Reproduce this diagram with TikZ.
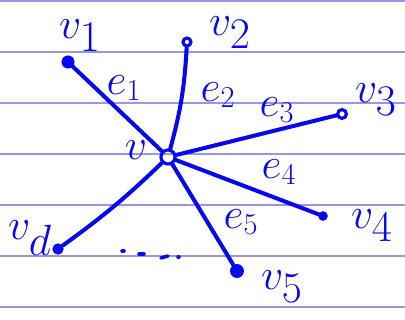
\documentclass[tikz,border=0pt]{standalone}
\definecolor{ink}{RGB}{8,8,238}
\definecolor{ruleline}{RGB}{150,150,240}
\begin{document}
\begin{tikzpicture}[x=0.02cm,y=-0.02cm,
  edge/.style={ink,line width=2.3pt,line cap=round},
  fdot/.style={circle,fill=ink,draw=ink,inner sep=0pt,minimum size=#1},
  odot/.style={circle,draw=ink,line width=1.8pt,inner sep=0pt,minimum size=#1},
  vlab/.style={text=ink,inner sep=0pt,font=\fontsize{36}{40}\selectfont},
  elab/.style={text=ink,inner sep=0pt,font=\fontsize{24}{28}\selectfont},
  ruling/.style={ruleline,line width=1pt}]
\useasboundingbox (0,0) rectangle (405,320);
\fill[white] (0,0) rectangle (405,320);
\foreach \y in {1,52,103,154,205,256,307}
  \draw[ruling] (0,\y) -- (405,\y);
% vertices
\node[odot=8pt] (v) at (168,157) {};
\node[fdot=7pt] (v1) at (68,62) {};
\node[odot=4.5pt] (v2) at (187,42) {};
\node[odot=5pt] (v3) at (342,114) {};
\node[fdot=5pt] (v4) at (323,216) {};
\node[fdot=7.5pt] (v5) at (237,271) {};
\node[fdot=6pt] (vd) at (58,249) {};
% edges
\draw[edge] (v) -- (v1);
\draw[edge] (v) to[bend right=6] (v2);
\draw[edge] (v) -- (v3);
\draw[edge] (v) -- (v4);
\draw[edge] (v) -- (v5);
\draw[edge] (v) to[bend left=4] (vd);
% vertex labels
\node[vlab] (lv) at (136,150) {$v$};
\node[vlab] (lv1) at (80,36) {$v_1$};
\node[vlab] (lv2) at (230,33) {$v_2$};
\node[vlab] (lv3) at (376,100) {$v_3$};
\node[vlab] (lv4) at (372,226) {$v_4$};
\node[vlab] (lv5) at (282,287) {$v_5$};
\node[vlab] (lvd) at (30,238) {$v_d$};
% edge labels
\node[elab] (le1) at (124,88) {$e_1$};
\node[elab] (le2) at (218,95) {$e_2$};
\node[elab] (le3) at (277,110) {$e_3$};
\node[elab] (le4) at (279,172) {$e_4$};
\node[elab] (le5) at (241,222) {$e_5$};
% ellipsis marks
\draw[edge,line width=2pt] (122,251) -- (124,251);
\draw[edge,line width=2pt] (139,254) -- (144,254);
\draw[edge,line width=2pt] (161,258) -- (168,256);
\draw[edge,line width=2pt] (178,257) -- (179,257);
\end{tikzpicture}
\end{document}
